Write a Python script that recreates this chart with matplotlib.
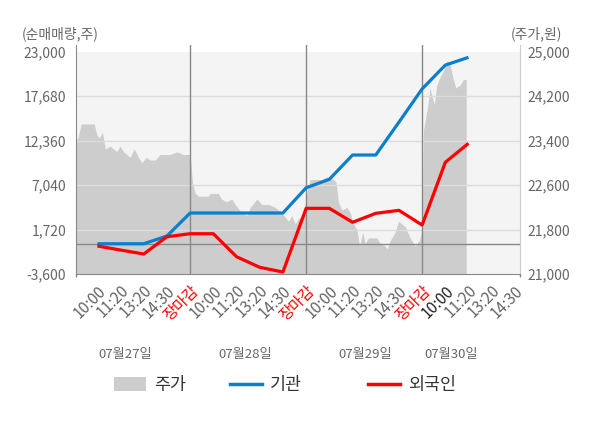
import matplotlib
matplotlib.use("Agg")
import matplotlib.pyplot as plt
import matplotlib.transforms as mtransforms
from matplotlib.lines import Line2D
from matplotlib.patches import Patch
from matplotlib.ticker import FuncFormatter, FixedLocator

plt.rcParams['font.family'] = ['Noto Sans CJK KR', 'DejaVu Sans']

BLUE = "#0A7FCC"
RED = "#FF0000"
AREA = "#CDCDCD"
PANEL = "#F4F4F4"
GRID = "#DCDCDC"
DARK = "#888888"
TEXT = "#666666"

# x axis: one slot per tick label
TIME_LABELS = ['10:00', '11:20', '13:20', '14:30', '장마감'] * 3 + ['10:00', '11:20', '13:20', '14:30']
DAY_LABELS = ['07월27일', '07월28일', '07월29일', '07월30일']

# net buying (shares), one value per tick slot
INST = [20, 20, 20, 950, 3700, 3700, 3700, 3700, 3700, 6720, 7730, 10640, 10640, 14570, 18550, 21400, 22330]
FOREIGN = [-250, -730, -1210, 860, 1220, 1220, -1530, -2800, -3360, 4260, 4260, 2590, 3660, 4020, 2260, 9770, 12040]

# intraday price (won), position measured in tick slots
PRICE_POS = [-0.91, -0.83, -0.70, -0.14, -0.02, 0.08, 0.22, 0.34, 0.55, 0.84, 0.98, 1.13, 1.41, 1.59, 1.77, 1.92,
             2.10, 2.28, 2.49, 2.71, 3.14, 3.43, 3.71, 3.97,
             4.01, 4.10, 4.22, 4.36, 4.79, 4.86, 5.22, 5.34, 5.58, 5.80, 5.94, 6.23, 6.44, 6.59, 6.88, 7.09,
             7.38, 7.66, 7.95, 8.24, 8.38, 8.53, 8.67, 8.88,
             9.00, 9.17, 9.46, 9.68, 9.89, 10.18, 10.29, 10.39, 10.54, 10.75, 10.90, 11.04, 11.19, 11.30, 11.44,
             11.54, 11.69, 12.05, 12.19, 12.41, 12.50, 12.62, 12.84, 12.98, 13.13, 13.27, 13.48, 13.70, 13.88, 14.00,
             14.06, 14.13, 14.25, 14.34, 14.42, 14.53, 14.63, 14.78, 14.92, 15.09, 15.21, 15.35, 15.45, 15.64,
             15.78, 15.90]
PRICE = [23400, 23450, 23700, 23700, 23500, 23450, 23550, 23250, 23300, 23200, 23300, 23200, 23100, 23250, 23100, 23000,
         23100, 23050, 23050, 23150, 23150, 23200, 23150, 23150,
         23100, 22650, 22450, 22400, 22400, 22450, 22450, 22350, 22300, 22350, 22250, 22100, 22050, 22200, 22350, 22250,
         22250, 22200, 22100, 21950, 22050, 21900, 22000, 22050,
         22400, 22700, 22700, 22700, 22750, 22700, 22650, 22300, 22150, 22200, 22100, 21900, 21800, 21500, 21750,
         21550, 21650, 21650, 21550, 21500, 21450, 21600, 21750, 21950, 21900, 21850, 21650, 21500, 21600, 21800,
         23600, 23750, 24050, 24350, 24200, 24050, 24400, 24550, 24650, 24850, 24750, 24500, 24350, 24400,
         24500, 24500]

LEFT_TICKS = [-3600, 1720, 7040, 12360, 17680, 23000]
RIGHT_TICKS = [21000, 21800, 22600, 23400, 24200, 25000]

fig = plt.figure(figsize=(6, 4.28), dpi=100)
ax2 = fig.add_axes([0.1267, 0.3598, 0.74, 0.535])   # price, drawn underneath
ax = ax2.twinx()
ax.set_zorder(ax2.get_zorder() + 1)
ax.patch.set_visible(False)
ax.xaxis.set_visible(True)

xlim = (-0.92, 18.22)

# price area on the right axis
ax2.axhspan(RIGHT_TICKS[0], RIGHT_TICKS[-1], color=PANEL, lw=0, zorder=0)
ax2.fill_between(PRICE_POS, PRICE, RIGHT_TICKS[0], color=AREA, lw=0, zorder=1)
ax2.set_xlim(*xlim)
ax2.set_ylim(21000, 25120)

# net buying lines on the left axis (drawn on top)
ax.set_ylim(-3600, 23802)
ax.set_xlim(*xlim)
for t in LEFT_TICKS[1:-1]:
    ax.axhline(t, color=GRID, lw=1, zorder=1)
ax.axhline(0, color=DARK, lw=1, zorder=2)
for i, lab in enumerate(TIME_LABELS):
    if lab == '장마감':
        ax.axvline(i, color=DARK, lw=1, zorder=2)
slots = list(range(len(INST)))
ax.plot(slots, INST, color=BLUE, lw=2.3, zorder=4, solid_capstyle='butt')
ax.plot(slots, FOREIGN, color=RED, lw=2.3, zorder=5, solid_capstyle='butt')

# the twin puts the first axes on the right; swap the sides
ax.yaxis.tick_left()
ax.yaxis.set_label_position('left')
ax2.yaxis.tick_right()

fmt = FuncFormatter(lambda v, p: f"{int(v):,}")
ax.set_yticks(LEFT_TICKS)
ax.yaxis.set_major_formatter(fmt)
ax2.set_yticks(RIGHT_TICKS)
ax2.yaxis.set_major_formatter(fmt)
ax.tick_params(axis='y', length=0, pad=7, labelsize=10, labelcolor=TEXT)
ax2.tick_params(axis='y', length=0, pad=5, labelsize=10, labelcolor=TEXT)

for a in (ax, ax2):
    for s in a.spines.values():
        s.set_visible(False)
ax.spines['left'].set_visible(True)
ax.spines['left'].set_color(DARK)
ax.spines['bottom'].set_visible(True)
ax.spines['bottom'].set_color(DARK)
ax.spines['right'].set_visible(True)
ax.spines['right'].set_color("#CCCCCC")

# x ticks (shared ticker, shown only on the top axes)
ax.set_xticks(range(len(TIME_LABELS)))
ax.set_xticklabels(TIME_LABELS, rotation=45, ha='right', va='top', rotation_mode='anchor')
ax.tick_params(axis='x', length=0, pad=6, labelsize=11)
ax2.tick_params(axis='x', which='both', length=0, labelbottom=False)
for i, lbl in enumerate(ax.get_xticklabels()):
    if TIME_LABELS[i] == '장마감':
        lbl.set_color(RED)
    elif i == 15:
        lbl.set_color('#222222')
    else:
        lbl.set_color(TEXT)
ax.xaxis.set_minor_locator(FixedLocator([xlim[0], 4, 9, 14, xlim[1]]))
ax.tick_params(axis='x', which='minor', length=2.5, color=DARK, width=1)

# day labels under the time labels
day_pos = [1.19, 6.36, 11.56, 15.26]
trans = mtransforms.blended_transform_factory(ax.transData, ax.transAxes)
for p, lab in zip(day_pos, DAY_LABELS):
    ax.text(p, -0.35, lab, transform=trans, ha='center', va='center', fontsize=9.5, color=TEXT)

fig.text(22 / 600, 1 - 34 / 428, '(순매매량,주)', ha='left', va='center', fontsize=10, color=TEXT)
fig.text(562 / 600, 1 - 34 / 428, '(주가,원)', ha='right', va='center', fontsize=10, color=TEXT)

# legend: three fixed-width slots
handles = [Patch(facecolor=AREA, edgecolor='none'),
           Line2D([], [], color=BLUE, lw=2.5),
           Line2D([], [], color=RED, lw=2.5)]
names = ['주가', '기관', '외국인']
slot_left = [114, 230, 368]
for h, n, xl in zip(handles, names, slot_left):
    leg = fig.legend([h], [n], loc='center left', bbox_to_anchor=(xl / 600, 1 - 385 / 428),
                     frameon=False, fontsize=12.5, handlelength=1.85, handleheight=0.8,
                     handletextpad=0.45, borderpad=0, borderaxespad=0)
    for t in leg.get_texts():
        t.set_color('#333333')

fig.savefig('out.png', dpi=100)
